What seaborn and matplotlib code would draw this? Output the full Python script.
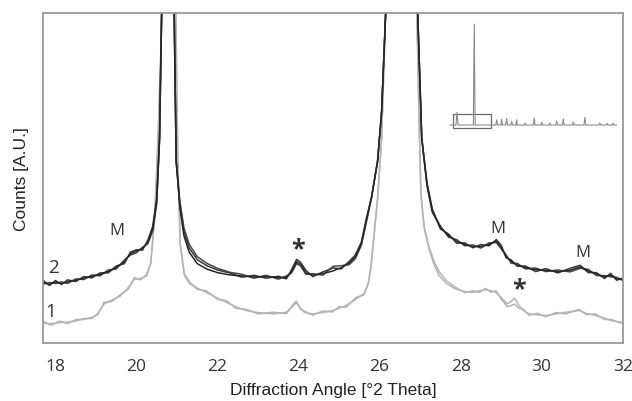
import numpy as np
import pandas as pd
import matplotlib
matplotlib.use("Agg")
import matplotlib.pyplot as plt
import seaborn as sns
from matplotlib.patches import Rectangle

# ---------------- data (y in arbitrary units, 0..100 = frame) -------------
dark_x = [17.70, 17.85, 18.00, 18.15, 18.30, 18.50, 18.70, 18.90, 19.10, 19.30,
          19.50, 19.70, 19.85, 20.00, 20.15, 20.28, 20.40, 20.50, 20.57, 20.62,
          20.78, 20.93, 20.98, 21.07, 21.17, 21.30, 21.50, 21.75, 22.00, 22.30,
          22.60, 22.90, 23.20, 23.50, 23.70, 23.82, 23.95, 24.05, 24.18, 24.35,
          24.60, 24.85, 25.05, 25.25, 25.40, 25.55, 25.68, 25.80, 25.95, 26.05,
          26.15, 26.55, 26.94, 27.04, 27.17, 27.30, 27.50, 27.70, 27.90, 28.10,
          28.30, 28.50, 28.70, 28.88, 29.00, 29.12, 29.25, 29.40, 29.60, 29.85,
          30.10, 30.40, 30.70, 30.95, 31.15, 31.35, 31.55, 31.70, 31.85, 32.00]
dark_y = [18.3, 17.8, 18.4, 18.0, 18.5, 19.0, 19.6, 20.2, 20.8, 21.6,
          22.8, 24.6, 27.0, 27.8, 28.6, 30.5, 34.5, 43.0, 62.0, 100.0,
          160.0, 100.0, 55.0, 41.0, 32.5, 27.5, 24.0, 22.3, 21.3, 20.6,
          20.3, 20.0, 20.1, 19.8, 19.8, 21.5, 24.6, 23.8, 21.2, 20.5,
          21.0, 21.8, 22.8, 24.2, 26.0, 30.0, 37.5, 44.0, 55.0, 70.0,
          100.0, 170.0, 100.0, 62.0, 48.0, 40.0, 35.0, 32.5, 30.8, 29.8,
          29.2, 29.2, 29.8, 30.8, 29.0, 26.3, 24.6, 23.6, 22.8, 22.2,
          22.0, 21.6, 22.0, 23.0, 21.8, 20.9, 20.0, 20.5, 19.4, 19.3]
# deviations of the two other replicate scans of sample 2
dark_dev_b = [0.6, -0.4, 0.5, -0.3, 0.6, -0.4, 0.5, -0.5, 0.4, -0.4,
              0.5, -0.6, 0.5, 0.4, -0.5, 0.6, 0.8, 1.0, 0, 0,
              0, 0, 0, 1.0, 1.3, 1.3, 1.2, 1.0, 0.8, 0.6,
              -0.4, 0.5, -0.5, 0.4, -0.4, 0.5, 0.7, 0.6, 0.8, -0.4,
              0.5, 0.9, -0.4, 0.5, 0.6, 0.5, 0.6, 0, 0, 0,
              0, 0, 0, 0, 0.5, 0.6, -0.5, 0.5, -0.6, 0.5,
              -0.4, 0.6, -0.4, 0.5, 0.6, -0.5, 0.5, -0.4, 0.5, -0.6,
              0.5, -0.4, 0.6, 0.5, -0.5, 0.4, -0.5, 0.6, -0.4, 0.3]
dark_dev_c = [-0.5, 0.5, -0.4, 0.5, -0.5, 0.4, -0.4, 0.4, -0.5, 0.5,
              -0.4, 0.5, -0.4, -0.5, 0.4, -0.5, -0.6, -0.8, 0, 0,
              0, 0, 0, 2.0, 2.4, 2.4, 2.1, 1.7, 1.3, 0.8,
              0.5, -0.4, 0.4, -0.5, 0.5, -0.4, -0.6, -0.5, -0.4, 0.5,
              -0.5, 1.4, 0.6, -0.5, -0.5, -0.4, -0.6, 0, 0, 0,
              0, 0, 0, 0, -0.5, -0.5, 0.4, -0.5, 0.5, -0.4,
              0.5, -0.5, 0.5, -0.4, -0.5, 0.4, -0.5, 0.5, -0.4, 0.5,
              -0.4, 0.5, -0.5, -0.4, 0.5, -0.5, 0.4, -0.5, 0.5, -0.4]

light_x = [17.70, 17.90, 18.10, 18.30, 18.50, 18.70, 18.90, 19.05, 19.20, 19.40,
           19.60, 19.80, 19.95, 20.10, 20.25, 20.35, 20.45, 20.55, 20.63, 20.80,
           20.97, 21.02, 21.08, 21.18, 21.31, 21.50, 21.72, 22.00, 22.22, 22.45,
           22.71, 23.00, 23.37, 23.70, 23.85, 23.94, 24.05, 24.15, 24.35, 24.60,
           24.84, 25.00, 25.17, 25.42, 25.62, 25.72, 25.79, 25.87, 25.95, 26.05,
           26.15, 26.55, 26.92, 26.97, 27.02, 27.10, 27.22, 27.35, 27.47, 27.65,
           27.88, 28.10, 28.29, 28.45, 28.62, 28.75, 28.87, 29.00, 29.15, 29.24,
           29.33, 29.44, 29.55, 29.69, 29.90, 30.10, 30.35, 30.60, 30.92, 31.10,
           31.33, 31.55, 31.74, 31.95, 32.00]
light_y = [6.0, 5.8, 6.2, 6.3, 6.6, 7.4, 7.4, 9.0, 11.8, 13.0,
           14.2, 16.8, 19.3, 19.5, 20.3, 24.0, 38.0, 68.0, 100.0, 160.0,
           100.0, 55.0, 30.0, 20.5, 17.9, 16.6, 15.3, 13.6, 12.3, 11.0,
           9.8, 9.2, 8.8, 9.3, 11.0, 12.2, 10.5, 9.2, 8.8, 9.2,
           9.8, 10.5, 11.3, 13.3, 15.0, 18.0, 23.4, 33.5, 43.6, 62.0,
           100.0, 170.0, 100.0, 70.0, 45.0, 35.0, 28.4, 23.5, 20.4, 18.0,
           16.3, 15.6, 15.3, 15.8, 16.1, 15.8, 15.3, 13.8, 11.8, 12.5,
           13.6, 11.3, 9.8, 8.8, 8.5, 8.3, 8.8, 9.3, 9.8, 9.0,
           8.3, 7.5, 6.7, 6.3, 6.2]
light_dev = [0.5, -0.4, 0.4, -0.4, 0.5, -0.3, 0.4, -0.4, 0.5, -0.4,
             0.4, -0.5, 0.5, -0.4, 0.4, 0, 0, 0, 0, 0,
             0, 0, 0, 0.5, 0.6, -0.4, 0.5, -0.4, 0.5, -0.5,
             0.4, -0.4, 0.5, -0.4, 0.4, 0.5, -0.4, 0.4, -0.4, 0.5,
             -0.4, 0.5, -0.5, 0.5, -0.4, 0, 0, 0, 0, 0,
             0, 0, 0, 0, 0, 0, 0.6, 1.0, 1.2, 0.8,
             0.5, -0.4, 0.5, -0.5, 0.4, -0.4, 0.5, -0.5, -0.8, -1.2,
             -1.8, -0.8, 0.4, -0.4, 0.5, -0.4, 0.4, -0.5, 0.4, -0.4,
             0.5, -0.4, 0.4, -0.3, 0.3]

# inset: full-range diffractogram (polyline vertices)
inset_x = [18.5, 20.5, 20.85, 21.2, 26.3, 26.6, 26.9, 33.8, 34.1, 34.4, 35.5, 35.75, 36.0,
           37.1, 37.4, 37.7, 38.8, 39.1, 39.4, 40.5, 40.75, 41.0, 43.2, 43.5, 43.8,
           46.3, 46.6, 46.9, 48.8, 49.1, 49.4, 51.55, 51.85, 52.15, 53.8, 54.1, 54.4,
           56.0, 56.3, 56.6, 59.3, 59.6, 59.9, 63.2, 63.5, 63.8, 68.2, 68.5, 68.8,
           70.6, 70.9, 71.2, 72.6, 72.9, 73.2, 74.1]
inset_y = [0, 0, 12.5, 0, 0, 100, 0, 0, 5.2, 0, 0, 5.9, 0,
           0, 6.6, 0, 0, 3.3, 0, 0, 5.2, 0, 0, 2.0, 0,
           0, 6.6, 0, 0, 2.7, 0, 0, 2.0, 0, 0, 4.0, 0,
           0, 5.9, 0, 0, 3.0, 0, 0, 7.6, 0, 0, 2.0, 0,
           0, 1.8, 0, 0, 2.0, 0, 0]
inset_box = (19.6, 32.1, -2.6, 10.8)  # x0, x1, y0, y1

labels_txt = ["M", "M", "M", "*", "*", "2", "1"]
labels_x = [19.52, 28.92, 31.01, 23.98, 29.45, 17.96, 17.88]
labels_y = [34.3, 34.8, 27.4, 28.6, 16.3, 22.9, 9.8]

xticks = [18, 20, 22, 24, 26, 28, 30, 32]

# ---------------- plotting ----------------
sns.set_style("white")
plt.rcParams["font.family"] = ["Liberation Sans", "DejaVu Sans"]
narrow = ["Open Sans", "DejaVu Sans"]

fig = plt.figure(figsize=(6.32, 4.02), dpi=100)
ax = fig.add_axes([0.0685, 0.1443, 0.9853 - 0.0685, 0.9664 - 0.1443])

dx = np.array(dark_x)
dy = np.array(dark_y)
lx = np.array(light_x)
ly = np.array(light_y)

light_col = "#b4b4b4"
dark_col = "#262626"

for yy in [ly, ly + np.array(light_dev)]:
    sns.lineplot(x=lx, y=yy, ax=ax, color=light_col, lw=1.1, estimator=None, sort=False)
for yy, c in [(dy + np.array(dark_dev_c), "#4a4a4a"), (dy + np.array(dark_dev_b), "#383838"), (dy, dark_col)]:
    sns.lineplot(x=dx, y=yy, ax=ax, color=c, lw=1.1, estimator=None, sort=False)

ax.set_xlim(17.7, 32.0)
ax.set_ylim(0, 100)
ax.set_xticks(xticks)
ax.set_xticklabels([str(t) for t in xticks], fontfamily=narrow, fontsize=12.5)
ax.set_yticks([])
ax.tick_params(axis="x", direction="out", length=4, width=1.0, color="#8c8c8c",
               labelcolor="#333333", pad=7)
for s in ax.spines.values():
    s.set_visible(True)
    s.set_color("#9a9a9a")
    s.set_linewidth(1.3)

ax.set_xlabel("Diffraction Angle [°2 Theta]", fontsize=12.5, color="#222222", labelpad=5.5)
ax.set_ylabel("Counts [A.U.]", fontsize=12.5, color="#222222", labelpad=10)

for t, x, y in zip(labels_txt, labels_x, labels_y):
    fs = 18 if t == "*" else (13.5 if t in ("1", "2") else 12)
    fw = "bold" if t == "*" else "normal"
    ax.text(x, y, t, ha="center", va="center", fontsize=fs, color="#333333",
            fontfamily=narrow, fontweight=fw)

# inset
ins = fig.add_axes([445 / 632, 1 - 135 / 402, (620 - 445) / 632, (135 - 20) / 402])
ins.patch.set_alpha(0)
sns.lineplot(x=inset_x, y=inset_y, ax=ins, color="#8a8a8a", lw=0.8, estimator=None, sort=False)
x0, x1, y0, y1 = inset_box
ins.add_patch(Rectangle((x0, y0), x1 - x0, y1 - y0, fill=False, ec="#6a6a6a", lw=0.9))
ins.set_xlim(16.85, 75.2)
ins.set_ylim(-8.9, 105)
ins.set_xticks([])
ins.set_yticks([])
for s in ins.spines.values():
    s.set_visible(False)

fig.savefig("out.png", dpi=100)
